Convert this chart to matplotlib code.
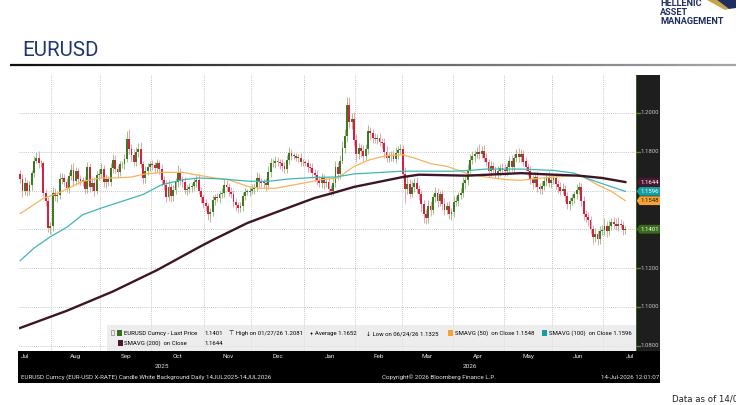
import numpy as np
import pandas as pd
import matplotlib
matplotlib.use("Agg")
import matplotlib.pyplot as plt
from matplotlib.patches import Rectangle, Polygon
from matplotlib.collections import LineCollection

W, H = 736, 405

# ---- data: EURUSD daily candles, 14 Jul 2025 - 14 Jul 2026 (business days)
first_open = 1.1685
closes = [
    1.1660, 1.1598, 1.1640, 1.1597, 1.1627, 1.1690, 1.1755, 1.1770, 1.1740, 1.1740,
    1.1590, 1.1545, 1.1405, 1.1415, 1.1586, 1.1572, 1.1575, 1.1660, 1.1665, 1.1642,
    1.1615, 1.1675, 1.1705, 1.1650, 1.1700, 1.1660, 1.1650, 1.1650, 1.1610, 1.1720,
    1.1620, 1.1640, 1.1600, 1.1680, 1.1685, 1.1710, 1.1645, 1.1660, 1.1645, 1.1718,
    1.1760, 1.1710, 1.1695, 1.1735, 1.1735, 1.1765, 1.1865, 1.1815, 1.1785, 1.1745,
    1.1800, 1.1815, 1.1735, 1.1665, 1.1700, 1.1720, 1.1735, 1.1730, 1.1715, 1.1740,
    1.1710, 1.1655, 1.1630, 1.1565, 1.1620, 1.1570, 1.1605, 1.1645, 1.1690, 1.1655,
    1.1645, 1.1605, 1.1610, 1.1620, 1.1625, 1.1645, 1.1655, 1.1600, 1.1565, 1.1535,
    1.1520, 1.1480, 1.1490, 1.1550, 1.1565, 1.1560, 1.1580, 1.1590, 1.1630, 1.1620,
    1.1595, 1.1580, 1.1540, 1.1525, 1.1510, 1.1520, 1.1570, 1.1595, 1.1595, 1.1600,
    1.1610, 1.1620, 1.1665, 1.1645, 1.1640, 1.1640, 1.1630, 1.1695, 1.1740, 1.1740,
    1.1750, 1.1745, 1.1740, 1.1725, 1.1710, 1.1760, 1.1795, 1.1780, 1.1780, 1.1770,
    1.1770, 1.1745, 1.1745, 1.1740, 1.1720, 1.1715, 1.1690, 1.1680, 1.1655, 1.1640,
    1.1665, 1.1640, 1.1645, 1.1610, 1.1600, 1.1640, 1.1720, 1.1685, 1.1755, 1.1820,
    1.1880, 1.2040, 1.1955, 1.1970, 1.1860, 1.1790, 1.1820, 1.1805, 1.1780, 1.1815,
    1.1905, 1.1895, 1.1870, 1.1865, 1.1870, 1.1850, 1.1845, 1.1800, 1.1770, 1.1780,
    1.1785, 1.1765, 1.1795, 1.1810, 1.1815, 1.1685, 1.1610, 1.1635, 1.1585, 1.1620,
    1.1640, 1.1610, 1.1580, 1.1530, 1.1480, 1.1460, 1.1520, 1.1500, 1.1565, 1.1590,
    1.1545, 1.1580, 1.1530, 1.1500, 1.1520, 1.1480, 1.1490, 1.1540, 1.1545, 1.1575,
    1.1590, 1.1640, 1.1655, 1.1700, 1.1760, 1.1780, 1.1790, 1.1800, 1.1790, 1.1805,
    1.1770, 1.1745, 1.1700, 1.1725, 1.1705, 1.1690, 1.1700, 1.1715, 1.1705, 1.1700,
    1.1720, 1.1755, 1.1720, 1.1770, 1.1790, 1.1775, 1.1790, 1.1750, 1.1720, 1.1700,
    1.1660, 1.1640, 1.1670, 1.1620, 1.1610, 1.1625, 1.1650, 1.1670, 1.1640, 1.1655,
    1.1665, 1.1635, 1.1620, 1.1600, 1.1610, 1.1570, 1.1530, 1.1545, 1.1560, 1.1580,
    1.1605, 1.1620, 1.1545, 1.1480, 1.1465, 1.1450, 1.1400, 1.1360, 1.1375, 1.1350,
    1.1390, 1.1395, 1.1420, 1.1390, 1.1420, 1.1440, 1.1430, 1.1415, 1.1430, 1.1425,
    1.1395, 1.1401,
]
# wick length above / below the body, in pips
wick_up = [
    20, 25, 30, 15, 22, 18, 25, 30, 35, 20, 15, 18, 20, 25, 30, 25, 20, 30, 25, 20,
    25, 20, 30, 35, 20, 15, 18, 20, 25, 30, 20, 25, 30, 20, 25, 30, 20, 25, 15, 25,
    30, 25, 20, 20, 18, 25, 40, 55, 25, 30, 25, 30, 35, 20, 25, 20, 18, 25, 20, 22,
    20, 25, 20, 25, 35, 20, 25, 20, 40, 25, 20, 25, 18, 20, 15, 20, 25, 30, 20, 15,
    20, 18, 20, 25, 20, 25, 20, 25, 30, 25, 20, 22, 25, 20, 18, 20, 25, 20, 15, 20,
    25, 20, 30, 25, 20, 20, 25, 30, 30, 25, 30, 25, 20, 25, 20, 25, 30, 20, 15, 15,
    20, 25, 20, 15, 25, 20, 25, 20, 25, 20, 25, 20, 20, 25, 20, 30, 35, 25, 30, 35,
    40, 41, 45, 30, 35, 30, 25, 20, 30, 25, 35, 25, 20, 25, 20, 25, 20, 25, 30, 20,
    20, 25, 30, 20, 25, 20, 35, 40, 25, 30, 25, 30, 20, 25, 20, 25, 30, 25, 20, 30,
    25, 20, 25, 30, 20, 25, 20, 30, 25, 20, 25, 30, 20, 35, 30, 25, 20, 25, 40, 25,
    30, 25, 20, 30, 25, 20, 25, 20, 25, 30, 20, 25, 30, 20, 25, 30, 25, 20, 25, 20,
    25, 20, 25, 30, 20, 25, 20, 25, 30, 20, 20, 25, 20, 25, 30, 20, 25, 20, 25, 20,
    30, 25, 20, 25, 20, 25, 20, 25, 30, 20, 25, 30, 40, 25, 30, 20, 25, 30, 35, 25,
    20, 15,
]
wick_dn = [
    20, 30, 20, 25, 20, 25, 20, 15, 25, 20, 20, 25, 20, 30, 25, 25, 30, 20, 25, 20,
    20, 25, 20, 25, 20, 25, 20, 25, 30, 20, 25, 20, 30, 20, 25, 20, 25, 30, 20, 20,
    25, 20, 25, 20, 20, 25, 20, 25, 30, 20, 20, 25, 20, 30, 25, 20, 20, 25, 25, 20,
    25, 30, 25, 25, 20, 30, 25, 20, 25, 25, 25, 20, 30, 20, 25, 20, 25, 20, 30, 25,
    25, 30, 40, 20, 25, 20, 25, 20, 25, 20, 25, 20, 25, 30, 25, 20, 25, 20, 20, 25,
    20, 25, 20, 30, 20, 25, 30, 20, 25, 20, 25, 20, 30, 25, 20, 20, 25, 20, 15, 15,
    25, 20, 20, 15, 25, 20, 25, 30, 25, 20, 25, 30, 20, 25, 30, 25, 20, 30, 25, 20,
    25, 30, 30, 35, 30, 40, 25, 30, 25, 20, 25, 30, 25, 20, 25, 20, 25, 30, 25, 20,
    25, 20, 25, 30, 20, 25, 75, 30, 25, 20, 25, 20, 30, 40, 45, 30, 25, 30, 20, 25,
    30, 25, 30, 25, 20, 25, 30, 25, 20, 25, 20, 25, 30, 25, 20, 25, 30, 20, 25, 20,
    25, 20, 30, 25, 20, 25, 30, 25, 20, 25, 25, 30, 20, 25, 20, 25, 30, 25, 20, 25,
    25, 30, 20, 25, 30, 25, 20, 25, 20, 25, 20, 25, 30, 25, 20, 30, 25, 30, 20, 25,
    25, 20, 25, 30, 25, 30, 25, 35, 25, 30, 25, 20, 25, 30, 20, 25, 30, 20, 25, 20,
    25, 20,
]

# moving averages (day index, value)
sma50_idx = [0, 5, 10, 17, 27, 35, 41, 48, 54, 61, 70, 78, 84, 90, 98, 103, 110, 116,
             124, 130, 137, 144, 151, 158, 165, 170, 177, 184, 190, 194, 201, 210, 216,
             221, 230, 239, 243, 249, 255, 261]
sma50_val = [1.1481, 1.1520, 1.1560, 1.1590, 1.1648, 1.1665, 1.1665, 1.1670, 1.1686,
             1.1694, 1.1694, 1.1677, 1.1665, 1.1656, 1.1622, 1.1612, 1.1612, 1.1625,
             1.1643, 1.1656, 1.1665, 1.1725, 1.1760, 1.1780, 1.1785, 1.1768, 1.1739,
             1.1725, 1.1700, 1.1683, 1.1670, 1.1656, 1.1653, 1.1660, 1.1670, 1.1677,
             1.1670, 1.1630, 1.1596, 1.1548]
sma100_idx = [0, 6, 13, 20, 27, 35, 44, 53, 61, 70, 77, 87, 99, 107, 116, 127, 136, 144,
              165, 187, 194, 201, 216, 230, 239, 244, 251, 261]
sma100_val = [1.1239, 1.1304, 1.1362, 1.1410, 1.1476, 1.1510, 1.1545, 1.1580, 1.1630,
              1.1656, 1.1665, 1.1660, 1.1648, 1.1648, 1.1660, 1.1668, 1.1670, 1.1686,
              1.1700, 1.1700, 1.1704, 1.1711, 1.1711, 1.1704, 1.1690, 1.1665, 1.1636,
              1.1596]
sma200_idx = [0, 20, 40, 59, 78, 83, 98, 113, 127, 135, 144, 165, 172, 193, 216, 230,
              241, 251, 261]
sma200_val = [1.0892, 1.0980, 1.1080, 1.1190, 1.1314, 1.1345, 1.1433, 1.1500, 1.1562,
              1.1588, 1.1619, 1.1670, 1.1682, 1.1677, 1.1690, 1.1682, 1.1677, 1.1665,
              1.1644]

y_ticks = [1.08, 1.10, 1.12, 1.14, 1.16, 1.18, 1.20]
tag_vals = [1.1644, 1.1596, 1.1548, 1.1401]
tag_cols = ['#4a1733', '#159ea3', '#f6a335', '#3a6a1c']
tag_txt = ['white', 'white', '#2a1a00', 'white']
month_names = ['Jul', 'Aug', 'Sep', 'Oct', 'Nov', 'Dec', 'Jan', 'Feb', 'Mar', 'Apr',
               'May', 'Jun', 'Jul']

UP, DN = '#3b7a20', '#d3203d'
UP_W, DN_W = '#a3bf8c', '#eda3b2'
C50, C100, C200 = '#f9b35a', '#3fb6b6', '#3c1628'

SMALL = ['Roboto', 'DejaVu Sans']
FS = 4.3      # bloomberg small text
BAR_TXT = '#e4e4e4'

fig = plt.figure(figsize=(W / 100, H / 100), dpi=100)
fig.patch.set_facecolor('white')


def fx(px):
    return px / W


def fy(py):
    return 1 - py / H


# header
fig.text(fx(22), fy(56), 'EURUSD', fontsize=14.8, color='#1d3570', family='Roboto')
nseg = 60
xs = np.linspace(fx(10), 1.0, nseg + 1)
segs = [[(xs[k], fy(64.5)), (xs[k + 1], fy(64.5))] for k in range(nseg)]
grad = plt.cm.Greys(np.linspace(0.95, 0.45, nseg))
fig.add_artist(LineCollection(segs, colors=grad, linewidths=1.6, transform=fig.transFigure))

# logo
for txt, yb in [('HELLENIC', 6.5), ('ASSET', 15.2), ('MANAGEMENT', 24)]:
    fig.text(fx(660), fy(yb), txt, fontsize=6.6, fontweight='bold', color='#1f2e5e',
             family='Roboto')
fig.add_artist(Polygon([(fx(707), fy(0)), (fx(717), fy(0)), (fx(729), fy(9)), (fx(725), fy(10))],
                       closed=True, transform=fig.transFigure, color='#c9a443', lw=0))
fig.add_artist(Polygon([(fx(717), fy(0)), (fx(736), fy(0)), (fx(736), fy(8)), (fx(729), fy(9))],
                       closed=True, transform=fig.transFigure, color='#1f2e5e', lw=0))

# main chart
L, R, T, B = 19, 636, 75, 351
ylo = 1.2 - (B - 113) / 1940
yhi = 1.2 + (113 - T) / 1940
ax = fig.add_axes([fx(L), fy(B), fx(R) - fx(L), fy(T) - fy(B)])
ax.set_facecolor('white')

days = pd.bdate_range('2025-07-14', '2026-07-14')
c = np.array(closes)
o = np.concatenate([[first_open], c[:-1]])
hi = np.maximum(o, c) + np.array(wick_up) * 1e-4
lo = np.minimum(o, c) - np.array(wick_dn) * 1e-4
x = np.arange(len(c))
up = c >= o

ax.set_xlim(-0.5, 265.6)
ax.set_ylim(ylo, yhi)

# grid: month boundaries + price levels
month_start = [k for k in range(1, len(days)) if days[k].month != days[k - 1].month]
for k in month_start:
    ax.axvline(k - 0.5, color='#b5b5b5', lw=0.6, ls=(0, (1, 1.5)), zorder=0)
for v in y_ticks:
    ax.axhline(v, color='#b5b5b5', lw=0.6, ls=(0, (1, 1.5)), zorder=0)

ax.vlines(x[up], lo[up], hi[up], color=UP_W, lw=0.7, zorder=2)
ax.vlines(x[~up], lo[~up], hi[~up], color=DN_W, lw=0.7, zorder=2)
body = np.maximum(np.abs(c - o), 0.0004)
bot = np.minimum(o, c)
ax.bar(x[up], body[up], bottom=bot[up], width=0.8, color=UP, lw=0, zorder=3)
ax.bar(x[~up], body[~up], bottom=bot[~up], width=0.8, color=DN, lw=0, zorder=3)

ax.plot(sma50_idx, sma50_val, color=C50, lw=0.9, zorder=4)
ax.plot(sma100_idx, sma100_val, color=C100, lw=0.9, zorder=4)
ax.plot(sma200_idx, sma200_val, color=C200, lw=1.7, zorder=4)

ax.set_xticks([])
ax.set_yticks([])
for s in ax.spines.values():
    s.set_visible(False)

# overlay in pixel coordinates (legend, bottom bar)
ov = fig.add_axes([0, 0, 1, 1], facecolor='none')
ov.set_xlim(0, W)
ov.set_ylim(H, 0)
ov.axis('off')
ov.add_patch(Rectangle((107, 325), R - 107, B - 325, facecolor='#e6e6e6', alpha=0.7, lw=0))
ov.add_patch(Rectangle((111, 330), 3, 5, facecolor='none', edgecolor='#999999', lw=0.6))
row1, row2 = 333.5, 343.5
ov.add_patch(Rectangle((117, row1 - 3.5), 5, 6, color='#3a6a1c', lw=0))
ov.text(124, row1, 'EURUSD Curncy - Last Price', fontsize=FS, va='center', family=SMALL)
ov.text(204, row1, '1.1401', fontsize=FS, va='center', family=SMALL)
ov.text(229, row1, '⊤ High on 01/27/26 1.2081', fontsize=FS, va='center', family=SMALL)
ov.text(310, row1, '+ Average 1.1652', fontsize=FS, va='center', family=SMALL)
ov.text(366, row1, '↓ Low on 06/24/26 1.1325', fontsize=FS, va='center', family=SMALL)
ov.add_patch(Rectangle((448, row1 - 3.5), 5, 6, color='#f6a335', lw=0))
ov.text(455, row1, 'SMAVG (50)  on Close 1.1548', fontsize=FS, va='center', family=SMALL)
ov.add_patch(Rectangle((542, row1 - 3.5), 5, 6, color='#159ea3', lw=0))
ov.text(549, row1, 'SMAVG (100)  on Close 1.1596', fontsize=FS, va='center', family=SMALL)
ov.add_patch(Rectangle((118, row2 - 3.5), 5, 6, color='#4a1733', lw=0))
ov.text(124, row2, 'SMAVG (200)  on Close', fontsize=FS, va='center', family=SMALL)
ov.text(204, row2, '1.1644', fontsize=FS, va='center', family=SMALL)

# right price panel
P = 660
axp = fig.add_axes([fx(R), fy(B), fx(P) - fx(R), fy(T) - fy(B)])
axp.set_facecolor('#1e1e1e')
axp.set_xlim(0, 1)
axp.set_ylim(ylo, yhi)
axp.set_xticks([])
axp.set_yticks([])
for s in axp.spines.values():
    s.set_visible(False)
axp.axvline(0.02, color='#3d6b1f', lw=1.2)
for v in y_ticks:
    axp.plot([0.0, 0.15], [v, v], color='#4f8a25', lw=1)
    axp.text(0.2, v, f'{v:.4f}', fontsize=FS, color='#c4c4c4', va='center', family=SMALL)
hh = 4.4 / 1940
for v, col, tc in zip(tag_vals, tag_cols, tag_txt):
    axp.add_patch(Polygon([(0.03, v), (0.15, v + hh), (1.0, v + hh), (1.0, v - hh), (0.15, v - hh)],
                          closed=True, color=col, lw=0, zorder=5))
    axp.text(0.2, v, f'{v:.4f}', fontsize=FS, color=tc, va='center', family=SMALL, zorder=6)

# bottom bar with months and footer
ov.add_patch(Rectangle((18, B), P - 18, 383 - B, color='black', lw=0))


def px_of(i):
    return L + (i + 0.5) / (265.6 + 0.5) * (R - L)


mstarts = pd.date_range('2025-07-01', '2026-07-01', freq='MS')
for m, name in zip(mstarts, month_names):
    nxt = m + pd.offsets.MonthBegin(1)
    n = np.busday_count(m.date(), nxt.date())
    i0 = np.busday_count(days[0].date(), m.date())
    ctr = i0 + n / 2 - 0.5
    ov.text(px_of(ctr), 356.5, name, fontsize=4.6, color=BAR_TXT, ha='center',
            va='center', family=SMALL)
i_2026 = np.busday_count(days[0].date(), pd.Timestamp('2026-01-01').date())
ov.text(px_of((-0.5 + i_2026 - 0.5) / 2), 367, '2025', fontsize=4.6, color=BAR_TXT,
        ha='center', va='center', family=SMALL)
ov.text(px_of((i_2026 - 0.5 + 265.6) / 2), 367, '2026', fontsize=4.6, color=BAR_TXT,
        ha='center', va='center', family=SMALL)
ov.text(21, 377.5, 'EURUSD Curncy (EUR-USD X-RATE) Candle White Background Daily 14JUL2025-14JUL2026',
        fontsize=4.5, color=BAR_TXT, va='center', family=SMALL)
ov.text(382, 377.5, 'Copyright© 2026 Bloomberg Finance L.P.', fontsize=4.5, color=BAR_TXT,
        va='center', family=SMALL)
ov.text(659, 377.5, '14-Jul-2026 12:01:07', fontsize=4.5, color=BAR_TXT, va='center',
        ha='right', family=SMALL)

fig.text(fx(672), fy(401), 'Data as of 14/07/2026', fontsize=6.2, color='#222222')

fig.savefig('out.png', dpi=100, facecolor='white')
